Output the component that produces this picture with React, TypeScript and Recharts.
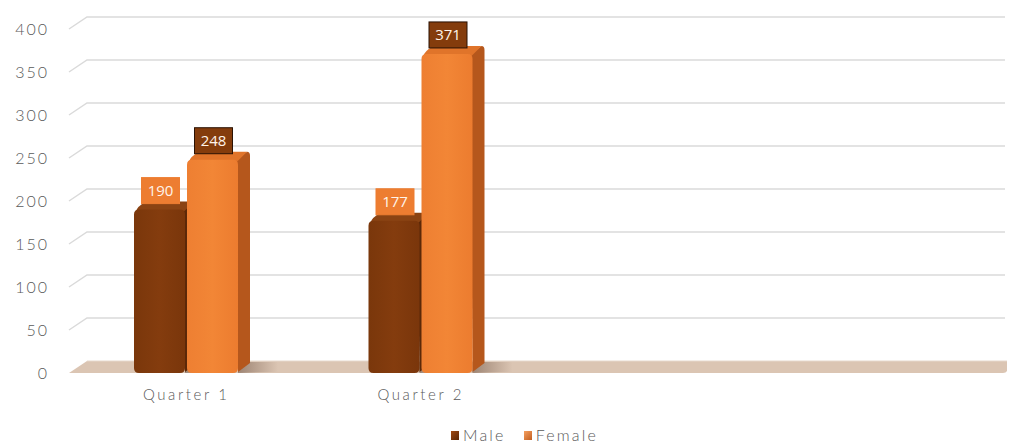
import React from "react";
import { BarChart, Bar, XAxis, YAxis, CartesianGrid, Legend, LabelList } from "recharts";

const quarters = ["Quarter 1", "Quarter 2", "", ""];
const male = [190, 177, null, null];
const female = [248, 371, null, null];
const seriesOrder = ["Male", "Female"];
const yTicks = [0, 50, 100, 150, 200, 250, 300, 350, 400];

const data = quarters.map((q, i) => ({ quarter: q, Male: male[i], Female: female[i] }));

const DX = 12;
const DY = 8;
const GX = 18;
const GY = 12;

const PALETTE = {
  Male: { front: ["#7a370b", "#843c0e", "#7a360b"], side: "#5c2808", top: "#8a4313", label: "#ed7d31", stroke: "#ed7d31" },
  Female: { front: ["#ee7f32", "#f28636", "#ec7c2f"], side: "#b5571c", top: "#e0742a", label: "#843c0c", stroke: "#2a1204" },
};

function Bar3D(props: any) {
  const { x, y, width, height, series, index } = props;
  if (!height || height <= 0) return null;
  const c = PALETTE[series as "Male" | "Female"];
  const id = `g-${series}-${index}`;
  const r = 5;
  const w = width;
  const b = y + height;
  const front = `M${x},${b - r} L${x},${y + r} Q${x},${y} ${x + r},${y} L${x + w - r},${y} Q${x + w},${y} ${x + w},${y + r} L${x + w},${b - r} Q${x + w},${b} ${x + w - r},${b} L${x + r},${b} Q${x},${b} ${x},${b - r} Z`;
  const side = `M${x + w - 2},${y} L${x + w + DX - 3},${y - DY} Q${x + w + DX},${y - DY} ${x + w + DX},${y - DY + 4} L${x + w + DX},${b - DY - 2} L${x + w},${b - 1} Z`;
  const top = `M${x + 2},${y + 2} Q${x + 3},${y - 3} ${x + DX},${y - DY} L${x + w + DX - 3},${y - DY} L${x + w - 1},${y + 2} Z`;
  return (
    <g>
      <defs>
        <linearGradient id={id} x1="0" y1="0" x2="1" y2="0">
          <stop offset="0%" stopColor={c.front[0]} />
          <stop offset="50%" stopColor={c.front[1]} />
          <stop offset="100%" stopColor={c.front[2]} />
        </linearGradient>
        <linearGradient id={`${id}-sh`} x1="0" y1="0" x2="1" y2="0">
          <stop offset="0%" stopColor="#6b5040" stopOpacity={0.55} />
          <stop offset="100%" stopColor="#6b5040" stopOpacity={0} />
        </linearGradient>
      </defs>
      <path d={`M${x + w},${b - 11} L${x + w + 40},${b - 11} L${x + w + 40},${b - 1} L${x + w},${b} Z`} fill={`url(#${id}-sh)`} />
      <path d={side} fill={c.side} />
      <path d={top} fill={c.top} />
      <path d={front} fill={`url(#${id})`} />
    </g>
  );
}

function ValueLabel(props: any) {
  const { x, y, width, value, series } = props;
  if (value == null) return null;
  const c = PALETTE[series as "Male" | "Female"];
  const bw = 38;
  const bh = 26;
  const cx = x + width / 2 + 1;
  const by = y - 6 - bh;
  return (
    <g>
      <rect x={cx - bw / 2} y={by} width={bw} height={bh} fill={c.label} stroke={c.stroke} strokeWidth={1} />
      <text x={cx} y={by + bh / 2 + 5} textAnchor="middle" fill="#fff4ea" fontSize={15} fontFamily="'Open Sans', sans-serif">
        {value}
      </text>
    </g>
  );
}

function GridLine(props: any) {
  const { x1, x2, y1, index } = props;
  if (Math.abs(y1 - 373) < 2) {
    return (
      <g key={`floor-${index}`}>
        <path d={`M${x1},${y1} L${x1 + GX},${y1 - GY} L${x2},${y1 - GY} L${x2},${y1 - 2} Q${x2 - 1},${y1} ${x2 - 4},${y1} Z`} fill="#dbc5b3" />
        <line x1={x1 + GX} y1={y1 - GY} x2={x2} y2={y1 - GY} stroke="#e6d8cc" />
      </g>
    );
  }
  return (
    <g key={`grid-${index}`}>
      <path d={`M${x1},${y1} L${x1 + GX},${y1 - GY} L${x2 - 2},${y1 - GY}`} fill="none" stroke="#dadada" strokeWidth={1.5} />
    </g>
  );
}

function LegendContent(props: any) {
  const payload = [...(props.payload || [])].sort(
    (a: any, b: any) => seriesOrder.indexOf(a.value) - seriesOrder.indexOf(b.value)
  );
  return (
    <div style={{ display: "flex", justifyContent: "center", gap: 18, height: 40, boxSizing: "border-box", paddingTop: 22, paddingLeft: 42 }}>
      {payload.map((p: any) => (
        <div key={p.value} style={{ display: "flex", alignItems: "center", gap: 4, fontFamily: "Lato, sans-serif", fontWeight: 300, fontSize: 16, color: "#595959", letterSpacing: 2.2, lineHeight: "18px" }}>
          <span style={{ width: 8, height: 9, background: p.value === "Male" ? "linear-gradient(135deg,#a04a14,#5a2707)" : "linear-gradient(135deg,#f5a060,#c25e1f)", display: "inline-block" }} />
          {p.value}
        </div>
      ))}
    </div>
  );
}

export default function App() {
  return (
    <div style={{ width: 1010, height: 444, background: "#ffffff" }}>
      <style>{`body{margin:0}`}</style>
      <BarChart width={1010} height={444} data={data} margin={{ top: 29, right: 3, bottom: 0, left: 0 }} barSize={51} barGap={2}>
        <CartesianGrid vertical={false} horizontal={GridLine as any} />
        <XAxis
          dataKey="quarter"
          axisLine={false}
          tickLine={false}
          tickSize={0}
          tickMargin={16}
          height={31}
          tick={{ fill: "#595959", fontSize: 15, fontWeight: 300, fontFamily: "Lato, sans-serif", letterSpacing: 2.6 }}
        />
        <YAxis
          domain={[0, 400]}
          ticks={yTicks}
          axisLine={false}
          tickLine={false}
          tickSize={0}
          tickMargin={20}
          width={69}
          tick={{ fill: "#595959", fontSize: 16, fontWeight: 300, fontFamily: "Lato, sans-serif", letterSpacing: 2 }}
        />
        <Legend verticalAlign="bottom" height={40} content={<LegendContent />} />
        <Bar dataKey="Male" fill="#843c0c" isAnimationActive={false} shape={(p: any) => <Bar3D {...p} series="Male" />}>
          <LabelList dataKey="Male" content={(p: any) => <ValueLabel {...p} series="Male" />} />
        </Bar>
        <Bar dataKey="Female" fill="#ed7d31" isAnimationActive={false} shape={(p: any) => <Bar3D {...p} series="Female" />}>
          <LabelList dataKey="Female" content={(p: any) => <ValueLabel {...p} series="Female" />} />
        </Bar>
      </BarChart>
    </div>
  );
}
